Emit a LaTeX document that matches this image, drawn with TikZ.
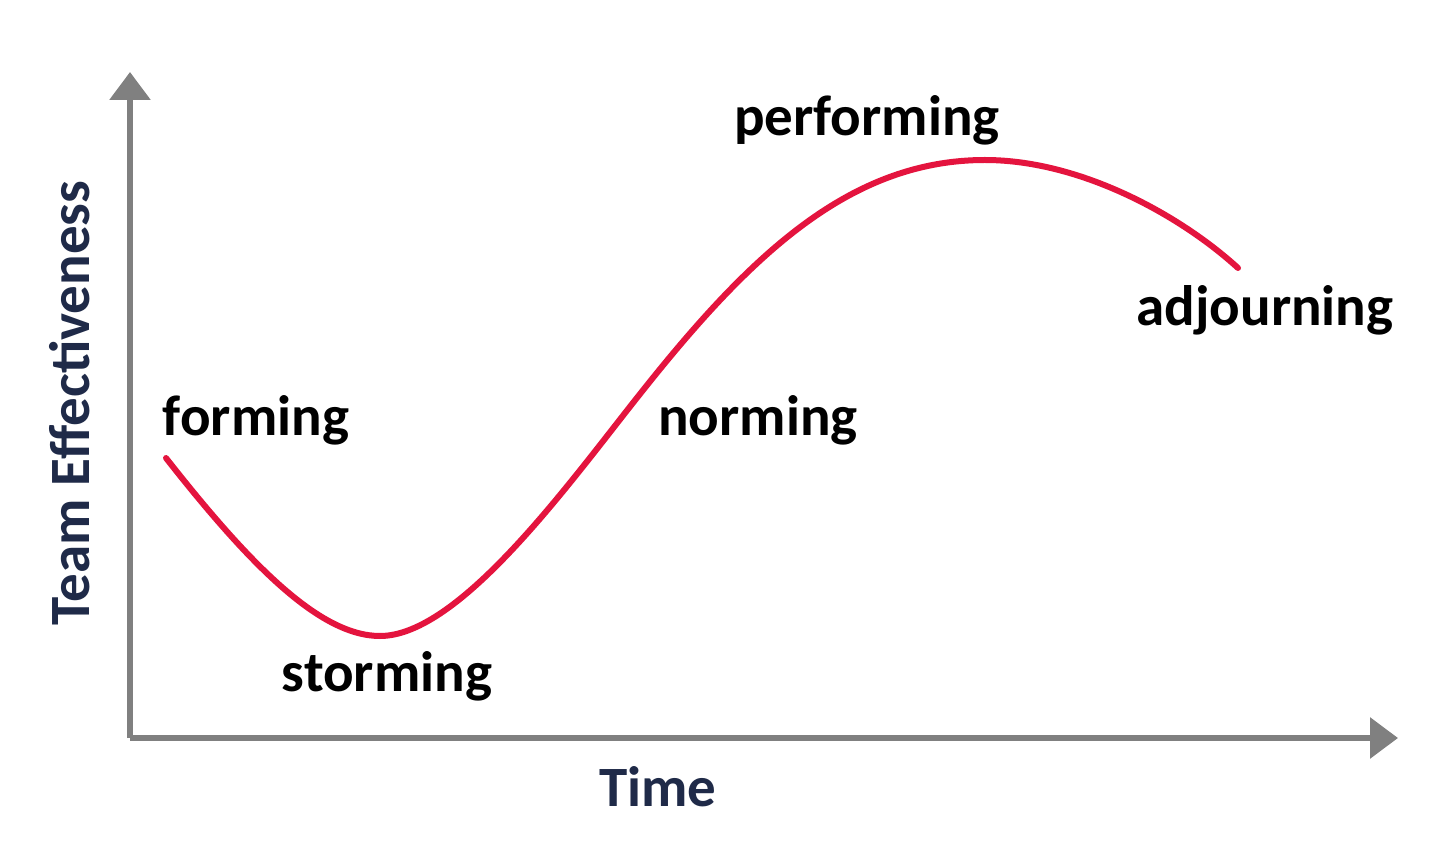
\documentclass[tikz,border=0pt]{standalone}
\usepackage{fontspec}
\setmainfont{Carlito}
\usetikzlibrary{arrows.meta}
\definecolor{curvered}{RGB}{228,20,62}
\definecolor{axisgray}{RGB}{128,128,128}
\definecolor{navy}{RGB}{31,42,72}
\begin{document}
\begin{tikzpicture}[x=0.5pt,y=-0.5pt,
  axisline/.style={draw=axisgray,line width=3pt,-{Triangle[length=14pt,width=20pt]}},
  stagelabel/.style={font=\fontsize{28.5}{34}\selectfont\bfseries,text=black,inner sep=0pt},
  axislabel/.style={font=\fontsize{28.5}{34}\selectfont\bfseries,text=navy,inner sep=0pt},
  curve/.style={draw=curvered,line width=3pt,line cap=round}]
\useasboundingbox (0,0) rectangle (1440,855);
\fill[white] (0,0) rectangle (1440,855);
\coordinate (origin) at (130,738);
\coordinate (ytop) at (130,72);
\coordinate (xend) at (1398,738);
\draw[axisline] (origin) -- (ytop);
\draw[axisline] (origin) -- (xend);
\coordinate (c0) at (166,458);
\coordinate (c1) at (380,636);
\coordinate (c2) at (640,394);
\coordinate (c3) at (985,160);
\coordinate (c4) at (1238,268);
\draw[curve] (c0) .. controls (250,565) and (320,636) .. (c1)
  .. controls (460,636) and (570,482) .. (c2)
  .. controls (750,255) and (850,160) .. (c3)
  .. controls (1080,160) and (1180,215) .. (c4);
\node[stagelabel] (forming) at (256,420) {forming};
\node[stagelabel] (storming) at (387,676) {storming};
\node[stagelabel] (norming) at (758,420) {norming};
\node[stagelabel] (performing) at (867,120) {performing};
\node[stagelabel] (adjourning) at (1265,310) {adjourning};
\node[axislabel] (time) at (658,787) {Time};
\node[axislabel,rotate=90] (te) at (70,403) {Team Effectiveness};
\end{tikzpicture}
\end{document}
